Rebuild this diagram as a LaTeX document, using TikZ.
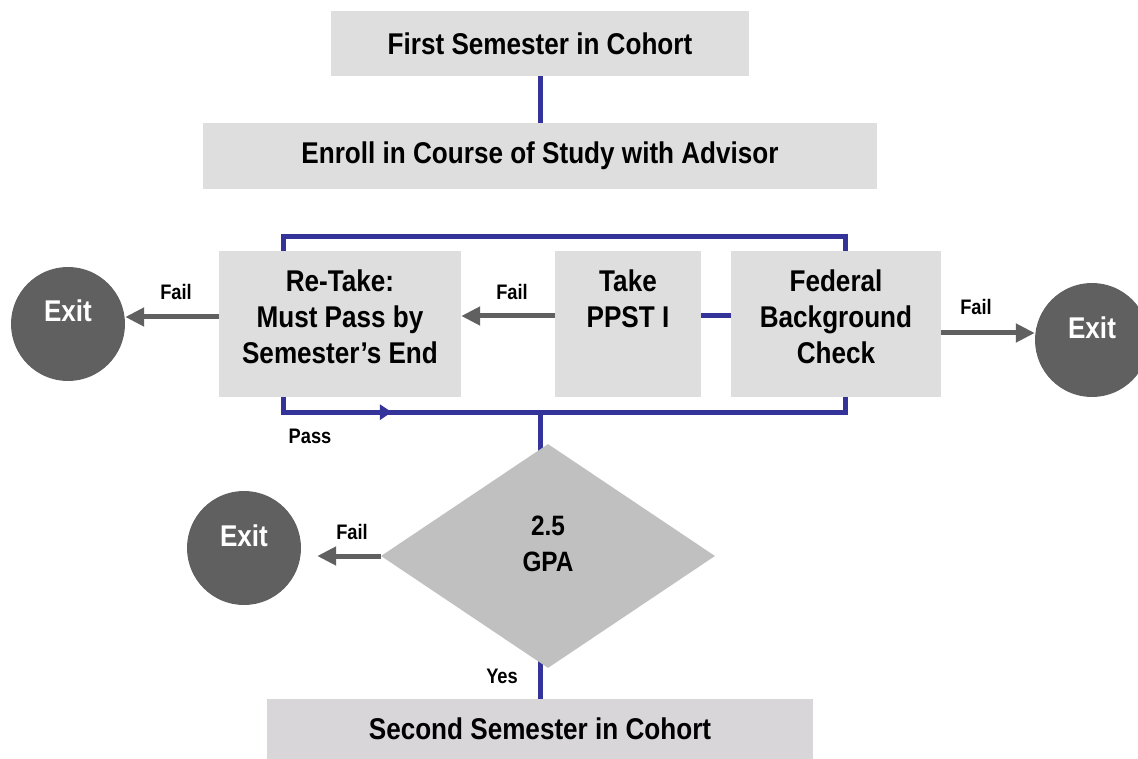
\documentclass[tikz,border=0pt]{standalone}
\usepackage{xcolor}
\usepackage{fontspec}
\usepackage{tikz}
\usetikzlibrary{shapes.geometric,arrows.meta,backgrounds}
\setmainfont{Liberation Sans}[FakeStretch=0.87]
\definecolor{boxgray}{RGB}{222,222,222}
\definecolor{endgray}{RGB}{217,214,218}
\definecolor{gpagray}{RGB}{192,192,192}
\definecolor{exitgray}{RGB}{96,96,96}
\definecolor{flowblue}{RGB}{51,51,153}

\begin{document}
\begin{tikzpicture}[x=1pt,y=1pt,
  box/.style={fill=boxgray,inner sep=0pt,align=center,font=\bfseries\fontsize{30}{36}\selectfont},
  exitnode/.style={circle,fill=exitgray,text=white,inner sep=0pt,minimum size=114pt,
    text height=20pt,text depth=24pt,font=\bfseries\fontsize{30}{34}\selectfont},
  tag/.style={font=\bfseries\fontsize{21}{25}\selectfont},
  flow/.style={draw=flowblue,line width=5pt},
  fail/.style={draw=exitgray,line width=5pt,-{Triangle[length=19pt,width=18pt]}}]
\useasboundingbox (0,0) rectangle (1138,-759);
% Top boxes
\node[box,minimum width=418pt,minimum height=65pt] (first) at (540,-43.5) {First Semester in Cohort};
\node[box,minimum width=674pt,minimum height=66pt] (enroll) at (540,-156) {Enroll in Course of Study with Advisor};
% Middle row
\node[box,minimum width=242pt,minimum height=146pt,text depth=14pt] (retake) at (340,-324) {Re-Take:\\Must Pass by\\Semester's End};
\node[box,minimum width=146pt,minimum height=146pt,text depth=50pt] (ppst) at (628,-324) {Take\\PPST I};
\node[box,minimum width=210pt,minimum height=146pt,text depth=14pt] (fed) at (836,-324) {Federal\\Background\\Check};
% GPA check and last box
\node[diamond,fill=gpagray,inner sep=0pt,minimum width=334pt,minimum height=224pt,
  text depth=24pt,font=\bfseries\fontsize{28}{36}\selectfont,align=center] (gpa) at (548,-556) {2.5\\GPA};
\node[box,fill=endgray,minimum width=546pt,minimum height=60pt] (second) at (540,-729) {Second Semester in Cohort};
% Exit circles
\node[exitnode] (exitA) at (68,-324) {Exit};
\node[exitnode] (exitB) at (1092,-340) {Exit};
\node[exitnode] (exitC) at (244,-548) {Exit};
% Blue connectors
\coordinate (passjoin) at (540,-412);
\draw[flow] (first) -- (enroll);
\draw[flow] ([xshift=65pt]retake.north west) -- ++(0,14) -| ([xshift=-96pt]fed.north east);
\draw[flow] ([yshift=8pt]ppst.east) -- ([yshift=8pt]fed.west);
\draw[flow] ([xshift=65pt]retake.south west) |- (passjoin) -| ([xshift=-96pt]fed.south east);
\draw[flow,-{Triangle[length=12pt,width=15pt]}] ([xshift=65pt]retake.south west) |- ++(108,-15);
\begin{scope}[on background layer]
\draw[flow] (passjoin) -- (passjoin |- second.north);
\end{scope}
% Fail arrows
\draw[fail] ([yshift=8pt]ppst.west) -- ([yshift=8pt]retake.east);
\draw[fail] ([yshift=7pt]retake.west) -- ([yshift=7pt]exitA.east);
\draw[fail] ([yshift=-9pt]fed.east) -- ([yshift=7pt]exitB.west);
\draw[fail] (gpa.west) -- ([xshift=16pt,yshift=-8pt]exitC.east);
% Labels
\node[tag] (failA) at (176,-292) {Fail};
\node[tag] (failB) at (512,-292) {Fail};
\node[tag] (failC) at (976,-307) {Fail};
\node[tag] (failD) at (352,-532) {Fail};
\node[tag] (pass) at (310,-436) {Pass};
\node[tag] (yes) at (502,-676) {Yes};
\end{tikzpicture}
\end{document}
